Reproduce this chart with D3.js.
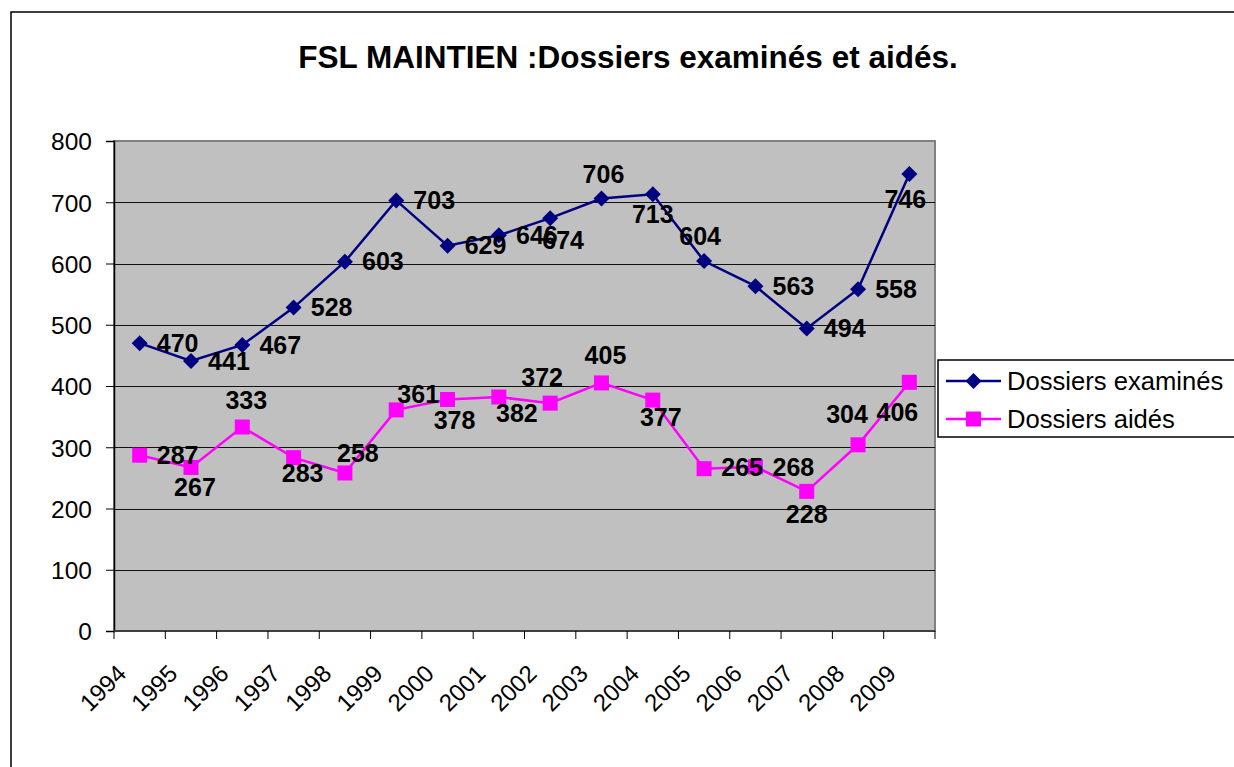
<!DOCTYPE html>
<meta charset="utf-8">
<style>
  body{ margin:0; background:#fff; }
  text{ font-family: "Liberation Sans", Arial, sans-serif; fill:#000; }
</style>

<svg width="1234" height="767"></svg>

<script src="https://d3js.org/d3.v7.min.js"></script>
<script>
  // data
  const years = ['1994','1995','1996','1997','1998','1999','2000','2001','2002','2003','2004','2005','2006','2007','2008','2009']
  const examines = [470, 441, 467, 528, 603, 703, 629, 646, 674, 706, 713, 604, 563, 494, 558, 746]
  const aides = [287, 267, 333, 283, 258, 361, 378, 382, 372, 405, 377, 265, 268, 228, 304, 406]
  const yTicks = [0, 100, 200, 300, 400, 500, 600, 700, 800]
  const seriesNames = ['Dossiers examinés', 'Dossiers aidés']

  // where each data label sits, relative to its point (label centre, px)
  const examinesLabelPos = [[38,0],[38,0],[38,0],[38,0],[38,0],[38,0],[38,0],[38,0],[13,22],[2,-24],[0,20],[-4,-25],[38,0],[38,0],[38,0],[-4,25]]
  const aidesLabelPos = [[38,0],[4,20],[4,-27],[9,16],[13,-20],[22,-16],[7,21],[18,16],[-8,-26],[4,-28],[8,17],[38,-1],[38,0],[0,23],[-11,-31],[-12,30]]

  // visual values
  const plot = {left: 114, right: 935, top: 141, bottom: 631}
  const blue = '#000080', pink = '#FF00FF'

  const svg = d3.select('svg')

  // outer frame
  svg.append('rect')
    .attr('x', 11).attr('y', 12)
    .attr('width', 1240).attr('height', 780)
    .attr('fill', '#fff').attr('stroke', '#000').attr('stroke-width', 1.5)

  svg.append('text')
    .attr('x', 628).attr('y', 68)
    .attr('text-anchor', 'middle')
    .style('font-size', '31.5px').style('font-weight', 'bold')
    .text('FSL MAINTIEN :Dossiers examinés et aidés.')

  let xScale = d3.scaleBand()
    .domain(years)
    .range([plot.left, plot.right])
  let yScale = d3.scaleLinear()
    .domain([0, 800])
    .range([plot.bottom, plot.top])

  // plot area
  svg.append('rect')
    .attr('x', plot.left).attr('y', plot.top)
    .attr('width', plot.right - plot.left).attr('height', plot.bottom - plot.top)
    .attr('fill', '#C0C0C0').attr('stroke', '#808080').attr('stroke-width', 2)

  // gridlines
  svg.append('g')
    .selectAll('line')
    .data(yTicks.filter(d => d > 0 && d < 800))
    .enter()
    .append('line')
    .attr('x1', plot.left).attr('x2', plot.right)
    .attr('y1', d => Math.round(yScale(d)) + 0.5).attr('y2', d => Math.round(yScale(d)) + 0.5)
    .attr('stroke', '#111').attr('stroke-width', 1)

  // y axis
  let y_axis = d3.axisLeft(yScale).tickValues(yTicks).tickSize(8).tickPadding(14)
  let gy = svg.append('g')
    .attr('transform', 'translate(' + plot.left + ',0)')
    .call(y_axis)
  gy.select('.domain').attr('stroke', '#000').attr('stroke-width', 1.5)
  gy.selectAll('.tick line').attr('stroke', '#000')
  gy.selectAll('text')
    .style('font-size', '24.5px')
    .style('font-family', '"Liberation Sans", Arial, sans-serif')
    .attr('fill', '#000')
    .attr('dy', '0.36em')

  // x axis: line, ticks between categories, rotated labels
  svg.append('line')
    .attr('x1', plot.left).attr('x2', plot.right)
    .attr('y1', plot.bottom).attr('y2', plot.bottom)
    .attr('stroke', '#404040').attr('stroke-width', 2)

  let bounds = years.map(d => xScale(d)).concat([xScale.range()[1]])
  svg.append('g')
    .selectAll('line')
    .data(bounds)
    .enter()
    .append('line')
    .attr('x1', d => d).attr('x2', d => d)
    .attr('y1', plot.bottom).attr('y2', plot.bottom + 8)
    .attr('stroke', '#000')

  svg.append('g')
    .selectAll('text')
    .data(years)
    .enter()
    .append('text')
    .attr('transform', d => 'translate(' + (xScale(d) + xScale.bandwidth() / 2 - 12) + ',' + (plot.bottom + 44) + ') rotate(-45)')
    .attr('text-anchor', 'end')
    .style('font-size', '24px')
    .text(d => d)

  const cx = (d, i) => xScale(years[i]) + xScale.bandwidth() / 2

  let line = d3.line()
    .x((d, i) => cx(d, i))
    .y(d => yScale(d))

  function drawSeries(values, color, marker, labelPos){
    svg.append('path')
      .datum(values)
      .attr('d', line)
      .attr('fill', 'none')
      .attr('stroke', color)
      .attr('stroke-width', 2.5)

    svg.append('g')
      .selectAll('path')
      .data(values)
      .enter()
      .append('path')
      .attr('d', marker)
      .attr('transform', (d, i) => 'translate(' + cx(d, i) + ',' + yScale(d) + ')')
      .attr('fill', color)

    svg.append('g')
      .selectAll('text')
      .data(values)
      .enter()
      .append('text')
      .attr('x', (d, i) => cx(d, i) + labelPos[i][0])
      .attr('y', (d, i) => yScale(d) + labelPos[i][1])
      .attr('dy', '0.35em')
      .attr('text-anchor', 'middle')
      .style('font-size', '25px').style('font-weight', 'bold')
      .text(d => d)
  }

  const diamond = 'M0,-8L8,0L0,8L-8,0Z'
  const square = 'M-7.5,-7.5H7.5V7.5H-7.5Z'

  drawSeries(examines, blue, diamond, examinesLabelPos)
  drawSeries(aides, pink, square, aidesLabelPos)

  // legend
  let legend = svg.append('g')
  legend.append('rect')
    .attr('x', 938).attr('y', 360)
    .attr('width', 320).attr('height', 77)
    .attr('fill', '#fff').attr('stroke', '#000').attr('stroke-width', 1.5)

  let items = legend.selectAll('g')
    .data(seriesNames)
    .enter()
    .append('g')
    .attr('transform', (d, i) => 'translate(0,' + (381 + i * 38) + ')')
  items.append('line')
    .attr('x1', 946).attr('x2', 1001)
    .attr('stroke', (d, i) => i ? pink : blue)
    .attr('stroke-width', 2.5)
  items.append('path')
    .attr('d', (d, i) => i ? square : diamond)
    .attr('transform', 'translate(973.5,0)')
    .attr('fill', (d, i) => i ? pink : blue)
  items.append('text')
    .attr('x', 1007)
    .attr('dy', '0.35em')
    .style('font-size', '25.6px')
    .text(d => d)
</script>
